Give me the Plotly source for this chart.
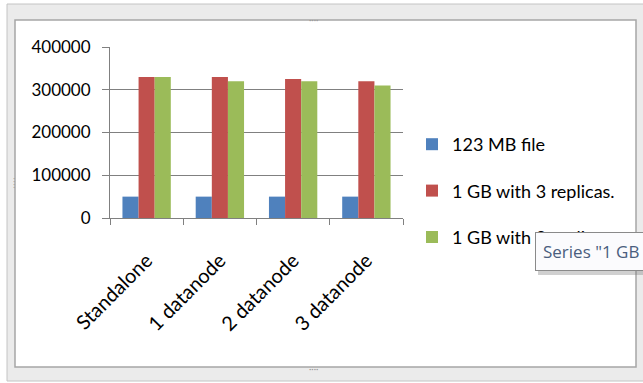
import plotly.graph_objects as go

# Throughput by cluster setup
categories = ["Standalone", "1 datanode", "2 datanode", "3 datanode"]
series_names = ["123 MB file", "1 GB with 3 replicas.", "1 GB with 2 replicas."]
file_123mb = [50000, 50000, 50000, 50000]
gb_3_replicas = [330000, 330000, 325000, 320000]
gb_2_replicas = [330000, 320000, 320000, 310000]
y_ticks = [0, 100000, 200000, 300000, 400000]

colors = ["#4F81BD", "#C0504D", "#9BBB59"]

W, H = 643, 383
ML, MR, MT, MB = 110, 240, 47, 165
PW, PH = W - ML - MR, H - MT - MB


def px(x):
    return (x - ML) / PW


def py(y):
    return 1 - (y - MT) / PH


fig = go.Figure()
for i, (name, vals) in enumerate(zip(series_names, [file_123mb, gb_3_replicas, gb_2_replicas])):
    fig.add_trace(go.Bar(
        x=categories, y=vals, name=name, marker_color=colors[i],
        marker_line_width=0, legendgroup=f"g{i}",
    ))

grid = "#808080"
fig.update_layout(
    width=W, height=H,
    margin=dict(l=ML, r=MR, t=MT, b=MB),
    paper_bgcolor="white", plot_bgcolor="rgba(0,0,0,0)",
    barmode="group", bargap=0.34, bargroupgap=0,
    font=dict(family="Lato", size=17, color="#000000"),
    showlegend=True,
    legend=dict(
        x=px(412), y=py(126), xanchor="left", yanchor="top",
        font=dict(family="Lato", size=18, color="#000000"),
        tracegroupgap=20, bgcolor="rgba(0,0,0,0)",
    ),
    xaxis=dict(
        type="category", tickangle=-45, tickson="boundaries",
        ticks="outside", ticklen=6, tickcolor=grid,
        showline=True, linecolor=grid, linewidth=1, showgrid=False,
        tickfont=dict(family="Lato", size=20), ticklabelstandoff=22,
    ),
    yaxis=dict(
        range=[0, 400000], tickvals=y_ticks, tickformat="d",
        ticks="outside", ticklen=7, tickcolor=grid,
        showline=True, linecolor=grid, linewidth=1,
        showgrid=True, gridcolor=grid, gridwidth=1, zeroline=False,
        tickfont=dict(family="Lato", size=17), ticklabelstandoff=8,
    ),
)

# Window frame around the chart
fig.add_shape(type="rect", xref="paper", yref="paper", layer="below",
              x0=px(7), x1=px(645), y0=py(381), y1=py(4),
              fillcolor="#ebebeb", line=dict(color="#c4c4c4", width=1))
fig.add_shape(type="rect", xref="paper", yref="paper", layer="below",
              x0=px(15), x1=px(636), y0=py(367), y1=py(20),
              fillcolor="white", line=dict(color="#a6a6a6", width=1.5))
# Resize grips on the frame
for gx, gy in [(320, 12), (320, 376), (11, 190)]:
    fig.add_annotation(xref="paper", yref="paper", x=px(gx), y=py(gy),
                       showarrow=False, text="····" if gx == 320 else "⁞",
                       font=dict(size=9, color="#9a9a9a"))

# Hover tooltip box
fig.add_shape(type="rect", xref="paper", yref="paper", layer="above",
              x0=px(538), x1=px(660), y0=py(275), y1=py(236),
              fillcolor="rgba(120,120,120,0.35)", line=dict(width=0))
fig.add_annotation(
    xref="paper", yref="paper", x=px(535), y=py(232),
    xanchor="left", yanchor="top", showarrow=False, align="left",
    text='Series "1 GB with 2 replicas." Point "Standalone"',
    font=dict(family="Open Sans", size=17, color="#4a5e7e"),
    bgcolor="#fbfbfd", bordercolor="#8a8a8a", borderwidth=1, borderpad=7,
)

fig.write_html("out.html")
